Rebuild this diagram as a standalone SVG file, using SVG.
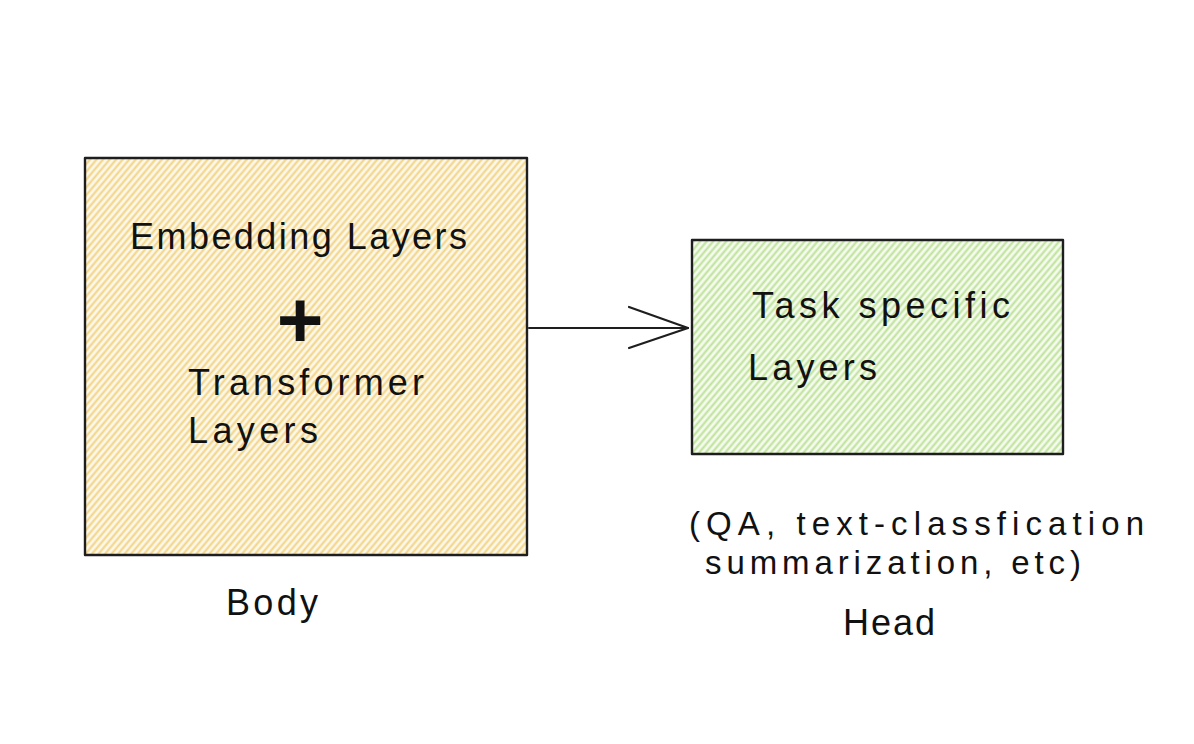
<svg xmlns="http://www.w3.org/2000/svg" width="1194" height="744" viewBox="0 0 1194 744">
<style>
.box{stroke:#1e1e1e;stroke-width:2.4;stroke-linejoin:round}
.t{font-family:"Liberation Sans","DejaVu Sans",sans-serif;font-size:36px;fill:#111}
.s{font-size:33px}
.plus{font-size:80px;font-weight:bold}
.edge{fill:none;stroke:#1e1e1e;stroke-width:2.2;stroke-linecap:round;stroke-linejoin:round}
</style>
<defs>
<pattern id="hy" patternUnits="userSpaceOnUse" width="5" height="5" patternTransform="rotate(40)">
<rect width="5" height="5" fill="#fdf8ea"/>
<line x1="1.5" y1="0" x2="1.5" y2="5" stroke="#f1d383" stroke-width="2"/>
</pattern>
<pattern id="hg" patternUnits="userSpaceOnUse" width="5" height="5" patternTransform="rotate(40)">
<rect width="5" height="5" fill="#f5fbee"/>
<line x1="1.5" y1="0" x2="1.5" y2="5" stroke="#bde198" stroke-width="2"/>
</pattern>
</defs>
<rect width="1194" height="744" fill="#ffffff"/>
<g id="connectors">
<path class="edge" d="M529 328 L688 328"/>
<path class="edge" d="M629 307 L688 328 L629 348"/>
</g>
<g id="body">
<rect class="box" x="85" y="158" width="442" height="397" fill="url(#hy)"/>
<text class="t" x="130" y="249" textLength="337" lengthAdjust="spacing">Embedding Layers</text>
<text class="t plus" x="300" y="347" text-anchor="middle">+</text>
<text class="t" x="188" y="395" textLength="236" lengthAdjust="spacing">Transformer</text>
<text class="t" x="188" y="443" textLength="130" lengthAdjust="spacing">Layers</text>
</g>
<g id="head">
<rect class="box" x="692" y="240" width="371" height="214" fill="url(#hg)"/>
<text class="t" x="752" y="318" textLength="258" lengthAdjust="spacing">Task specific</text>
<text class="t" x="748" y="380" textLength="129" lengthAdjust="spacing">Layers</text>
</g>
<g id="labels">
<text class="t" x="226" y="615" textLength="92" lengthAdjust="spacing">Body</text>
<text class="t s" x="689" y="535" textLength="455" lengthAdjust="spacing">(QA, text-classfication</text>
<text class="t s" x="705" y="574" textLength="376" lengthAdjust="spacing">summarization, etc)</text>
<text class="t" x="843" y="635" textLength="92" lengthAdjust="spacing">Head</text>
</g>
</svg>
